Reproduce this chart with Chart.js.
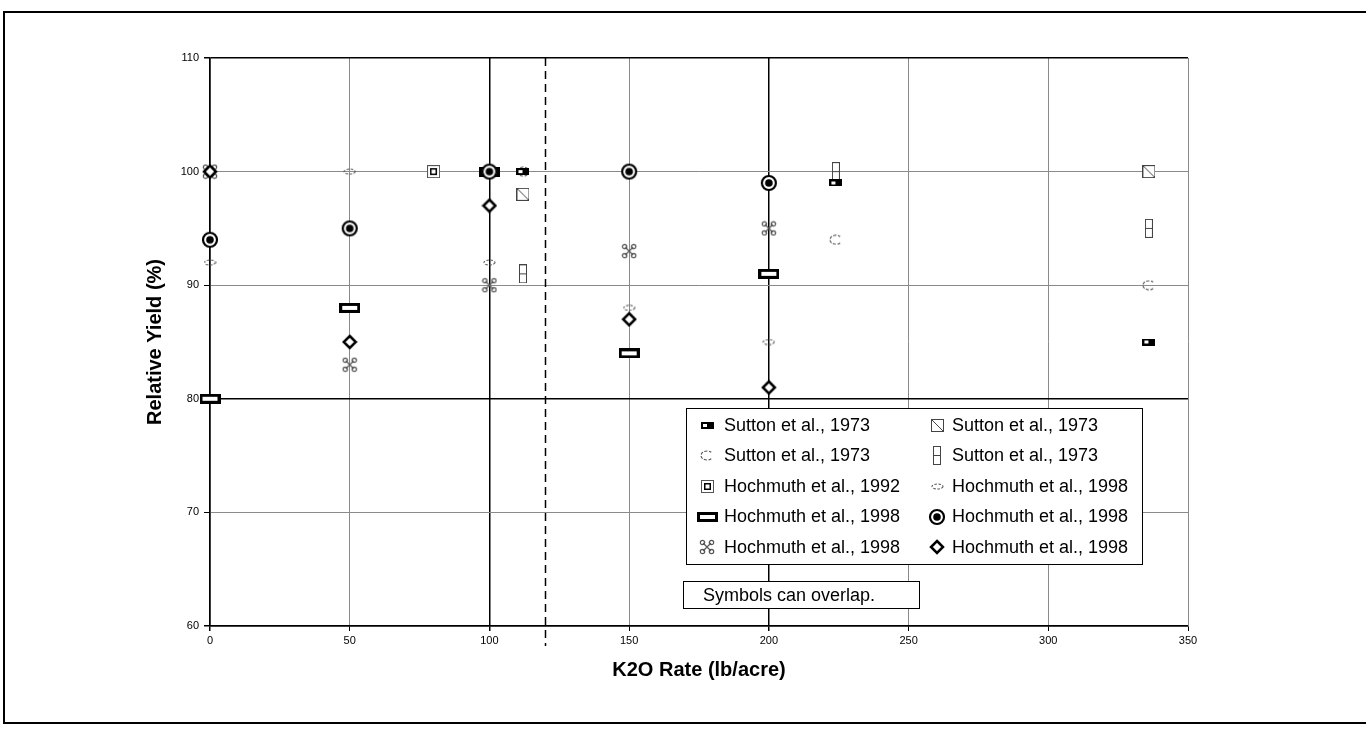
<!DOCTYPE html>
<html>
<head>
<meta charset="utf-8">
<script src="https://cdn.jsdelivr.net/npm/chart.js@4.4.1/dist/chart.umd.min.js"></script>
<style>
  html, body { margin: 0; padding: 0; background: #fff; overflow: hidden; }
  #frame { position: absolute; left: 3px; top: 11px; width: 1400px; height: 709px; border: 2px solid #000; border-right: none; }
  #chart { position: absolute; left: 0; top: 0; }
</style>
</head>
<body>
<div id="frame"></div>
<canvas id="chart" width="1366" height="736"></canvas>
<script>
// legend labels, in legend order (row by row, two columns)
const seriesLabels = [
  "Sutton et al., 1973", "Sutton et al., 1973",
  "Sutton et al., 1973", "Sutton et al., 1973",
  "Hochmuth et al., 1992", "Hochmuth et al., 1998",
  "Hochmuth et al., 1998", "Hochmuth et al., 1998",
  "Hochmuth et al., 1998", "Hochmuth et al., 1998"
];

// Sutton et al., 1973
const suttonRates = [112, 224, 336];
const suttonHalfRect = [100, 99, 85];
const suttonSlashBox = [98, null, 100];
const suttonOpenCircle = [100, 94, 90];
const suttonTallBox = [91, 100, 95];

// Hochmuth et al., 1992
const hoch92Rates = [80];
const hoch92Box = [100];

// Hochmuth et al., 1998
const hochRates = [0, 50, 100, 150, 200];
const hochOval = [92, 100, 92, 88, 85];
const hochThickRect = [80, 88, 100, 84, 91];
const hochBullseye = [94, 95, 100, 100, 99];
const hochCross = [100, 83, 90, 93, 95];
const hochDiamond = [100, 85, 97, 87, 81];

const xTicks = [0, 50, 100, 150, 200, 250, 300, 350];
const yTicks = [60, 70, 80, 90, 100, 110];
const dividerRate = 120;

const FONT = "'Liberation Sans', Arial, sans-serif";
const GRAY = "#555";

function marker(w, h, draw) {
  const c = document.createElement("canvas");
  c.width = w; c.height = h;
  draw(c.getContext("2d"), w, h);
  return c;
}

const markers = [
  marker(13, 7, g => {
    g.fillStyle = "#000"; g.fillRect(0, 0, 13, 7);
    g.fillStyle = "#fff"; g.fillRect(2, 2, 4, 3);
  }),
  marker(13, 13, g => {
    g.strokeStyle = "#444"; g.lineWidth = 1;
    g.fillStyle = "#fff"; g.fillRect(0, 0, 13, 13);
    g.strokeRect(0.5, 0.5, 12, 12);
    g.beginPath(); g.moveTo(1, 1); g.lineTo(12, 12); g.stroke();
  }),
  marker(14, 11, g => {
    g.strokeStyle = GRAY; g.lineWidth = 1.2; g.setLineDash([3, 1.5]);
    g.beginPath(); g.ellipse(7, 5.5, 6, 4.5, 0, 0.25 * Math.PI, 1.75 * Math.PI); g.stroke();
  }),
  marker(8, 19, g => {
    g.strokeStyle = "#444"; g.lineWidth = 1;
    g.fillStyle = "#fff"; g.fillRect(0, 0, 8, 19);
    g.strokeRect(0.5, 0.5, 7, 18);
    g.beginPath(); g.moveTo(0, 9.5); g.lineTo(8, 9.5); g.stroke();
  }),
  marker(13, 13, g => {
    g.fillStyle = "#fff"; g.fillRect(0, 0, 13, 13);
    g.strokeStyle = GRAY; g.lineWidth = 1; g.strokeRect(0.5, 0.5, 12, 12);
    g.strokeStyle = "#000"; g.lineWidth = 1.5; g.strokeRect(3.75, 3.75, 5.5, 5.5);
  }),
  marker(13, 7, g => {
    g.strokeStyle = GRAY; g.lineWidth = 1.1; g.setLineDash([2.5, 1.5]);
    g.beginPath(); g.ellipse(6.5, 3.5, 5.5, 2.5, 0, 0, 2 * Math.PI); g.stroke();
  }),
  marker(21, 10, g => {
    g.fillStyle = "#000"; g.fillRect(0, 0, 21, 10);
    g.fillStyle = "#fff"; g.fillRect(3, 3, 15, 4);
  }),
  marker(18, 18, g => {
    g.fillStyle = "#fff"; g.strokeStyle = "#000"; g.lineWidth = 2.2;
    g.beginPath(); g.arc(9, 9, 7, 0, 2 * Math.PI); g.fill(); g.stroke();
    g.fillStyle = "#000";
    g.beginPath(); g.arc(9, 9, 3.8, 0, 2 * Math.PI); g.fill();
  }),
  marker(16, 16, g => {
    g.strokeStyle = GRAY; g.lineWidth = 1.2;
    g.beginPath();
    g.moveTo(4, 4); g.lineTo(12, 12); g.moveTo(12, 4); g.lineTo(4, 12);
    g.stroke();
    [[3.5, 3.5], [12.5, 3.5], [3.5, 12.5], [12.5, 12.5]].forEach(p => {
      g.beginPath(); g.arc(p[0], p[1], 2.2, 0, 2 * Math.PI); g.stroke();
    });
  }),
  marker(16, 16, g => {
    g.fillStyle = "#fff"; g.strokeStyle = "#000"; g.lineWidth = 2.5;
    g.beginPath();
    g.moveTo(8, 2); g.lineTo(14, 8); g.lineTo(8, 14); g.lineTo(2, 8); g.closePath();
    g.fill(); g.stroke();
  })
];

function pairs(xs, ys) {
  return xs.map((x, i) => ({ x: x, y: ys[i] })).filter(p => p.y !== null);
}

const seriesData = [
  pairs(suttonRates, suttonHalfRect),
  pairs(suttonRates, suttonSlashBox),
  pairs(suttonRates, suttonOpenCircle),
  pairs(suttonRates, suttonTallBox),
  pairs(hoch92Rates, hoch92Box),
  pairs(hochRates, hochOval),
  pairs(hochRates, hochThickRect),
  pairs(hochRates, hochBullseye),
  pairs(hochRates, hochCross),
  pairs(hochRates, hochDiamond)
];

// draw order: later entries drawn on top
const drawOrder = [3, 2, 1, 0, 4, 5, 6, 7, 8, 9];

const datasets = seriesData.map((d, i) => ({
  label: seriesLabels[i],
  data: d,
  pointStyle: markers[i],
  pointRadius: 6,
  pointHoverRadius: 6,
  showLine: false,
  clip: false,
  order: 10 - drawOrder.indexOf(i)
}));

const blackX = [0, 100, 200];
const blackY = [60, 80, 110];

const extras = {
  id: "extras",
  beforeDatasetsDraw(chart) {
    const { ctx, chartArea, scales } = chart;
    const x = Math.round(scales.x.getPixelForValue(dividerRate)) + 0.5;
    ctx.save();
    ctx.strokeStyle = "#000";
    ctx.lineWidth = 1.5;
    ctx.setLineDash([8, 5]);
    ctx.beginPath();
    ctx.moveTo(x, chartArea.top);
    ctx.lineTo(x, chartArea.bottom + 20);
    ctx.stroke();
    ctx.restore();
  },
  afterDatasetsDraw(chart) {
    const { ctx } = chart;
    ctx.save();
    // legend box
    const L = { left: 686, top: 408, right: 1143, bottom: 565 };
    ctx.fillStyle = "#fff";
    ctx.fillRect(L.left, L.top, L.right - L.left, L.bottom - L.top);
    ctx.strokeStyle = "#000";
    ctx.lineWidth = 1;
    ctx.strokeRect(L.left + 0.5, L.top + 0.5, L.right - L.left - 1, L.bottom - L.top - 1);
    ctx.font = "18px " + FONT;
    ctx.fillStyle = "#000";
    ctx.textBaseline = "middle";
    ctx.textAlign = "left";
    const colMarker = [707, 937];
    const colText = [724, 952];
    chart.data.datasets.forEach((ds, i) => {
      const col = i % 2;
      const row = Math.floor(i / 2);
      const y = 425 + row * 30.5;
      const m = ds.pointStyle;
      ctx.drawImage(m, Math.round(colMarker[col] - m.width / 2), Math.round(y - m.height / 2));
      ctx.fillText(ds.label, colText[col], y + 1);
    });
    // note box
    ctx.fillStyle = "#fff";
    ctx.fillRect(683, 581, 237, 28);
    ctx.strokeRect(683.5, 581.5, 236, 27);
    ctx.fillStyle = "#000";
    ctx.fillText("Symbols can overlap.", 703, 596);
    ctx.restore();
  }
};

new Chart(document.getElementById("chart"), {
  type: "scatter",
  data: { datasets: datasets },
  options: {
    responsive: false,
    animation: false,
    events: [],
    layout: { padding: { top: 58, right: 178, bottom: 0, left: 0 } },
    plugins: { legend: { display: false }, tooltip: { enabled: false } },
    scales: {
      x: {
        type: "linear",
        min: 0,
        max: 350,
        afterBuildTicks: s => { s.ticks = xTicks.map(v => ({ value: v })); },
        afterFit: s => { s.height = 110; },
        ticks: { color: "#000", font: { family: FONT, size: 11 }, padding: 3, maxRotation: 0 },
        grid: {
          color: c => blackX.includes(c.tick && c.tick.value) ? "#000" : "#8a8a8a",
          lineWidth: c => blackX.includes(c.tick && c.tick.value) ? 1.5 : 1,
          tickColor: "#000",
          tickLength: 5
        },
        border: { color: "#000", width: 1.5 },
        title: {
          display: true,
          text: "K2O Rate (lb/acre)",
          color: "#000",
          font: { family: FONT, size: 20, weight: "bold" },
          padding: { top: 0, bottom: 54 }
        }
      },
      y: {
        type: "linear",
        min: 60,
        max: 110,
        afterBuildTicks: s => { s.ticks = yTicks.map(v => ({ value: v })); },
        afterFit: s => { s.width = 210; },
        ticks: { color: "#000", font: { family: FONT, size: 11 }, padding: 5 },
        grid: {
          color: c => blackY.includes(c.tick && c.tick.value) ? "#000" : "#8a8a8a",
          lineWidth: c => blackY.includes(c.tick && c.tick.value) ? 1.5 : 1,
          tickColor: "#000",
          tickLength: 6
        },
        border: { color: "#000", width: 1.5 },
        title: {
          display: true,
          text: "Relative Yield (%)",
          color: "#000",
          font: { family: FONT, size: 20, weight: "bold" },
          padding: { top: 143, bottom: 0 }
        }
      }
    }
  },
  plugins: [extras]
});
</script>
</body>
</html>
